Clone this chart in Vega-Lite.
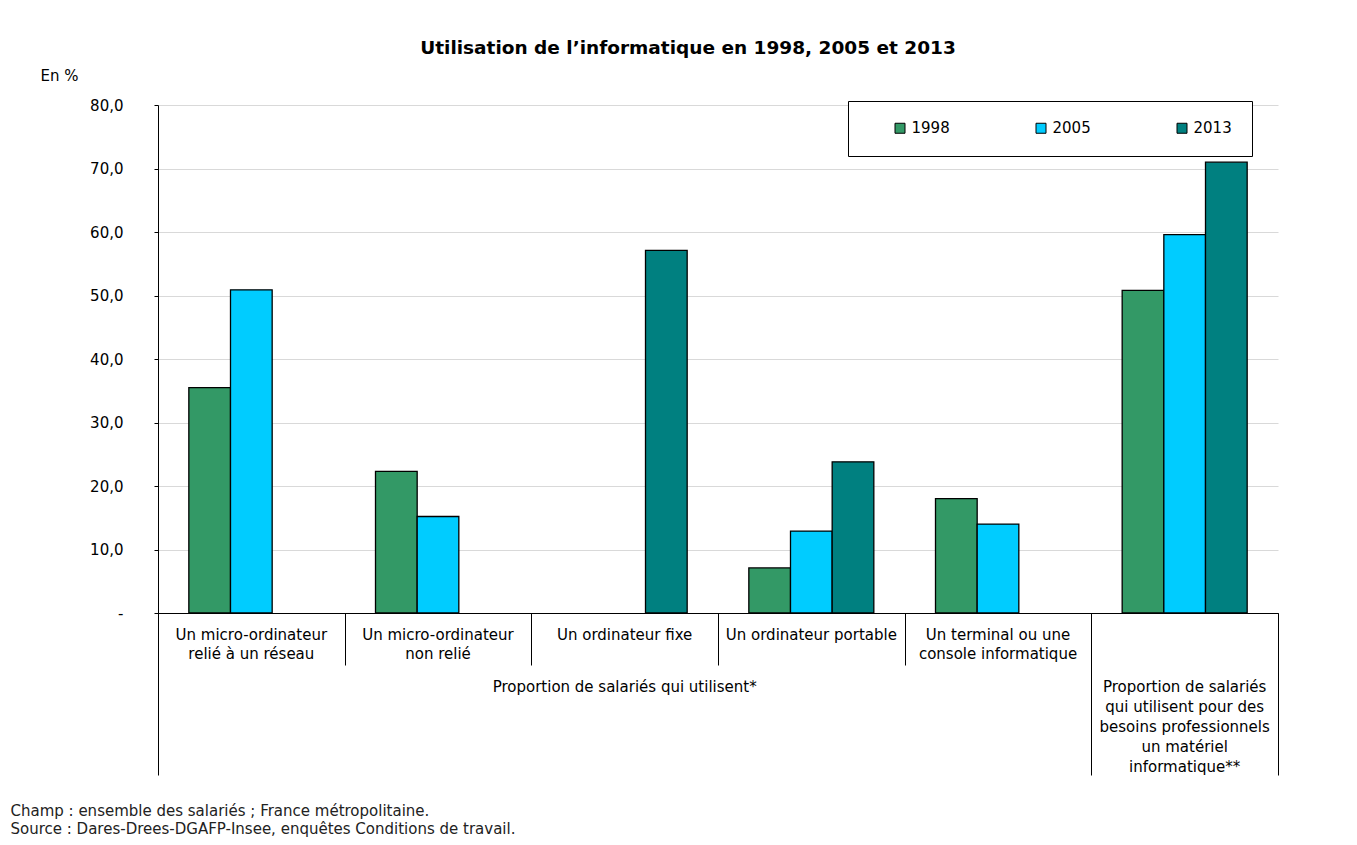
{
  "$schema": "https://vega.github.io/schema/vega-lite/v6.json",
  "width": 1120,
  "height": 508,
  "autosize": {"type": "none"},
  "padding": {"left": 158, "top": 105, "right": 79, "bottom": 232},
  "background": "white",
  "config": {
    "font": "DejaVu Sans",
    "view": {"stroke": null},
    "axis": {"labelColor": "black", "titleColor": "black", "labelFont": "DejaVu Sans", "titleFont": "DejaVu Sans"}
  },
  "title": {
    "text": "Utilisation de l’informatique en 1998, 2005 et 2013",
    "fontSize": 18.5,
    "fontWeight": "bold",
    "color": "black",
    "anchor": "middle",
    "frame": "group",
    "dx": -30,
    "offset": 11
  },
  "data": {
    "values": [
      {"categorie": "Un micro-ordinateur relié à un réseau", "annee": "1998", "valeur": 35.5},
      {"categorie": "Un micro-ordinateur relié à un réseau", "annee": "2005", "valeur": 50.9},
      {"categorie": "Un micro-ordinateur non relié", "annee": "1998", "valeur": 22.3},
      {"categorie": "Un micro-ordinateur non relié", "annee": "2005", "valeur": 15.2},
      {"categorie": "Un ordinateur fixe", "annee": "2013", "valeur": 57.1},
      {"categorie": "Un ordinateur portable", "annee": "1998", "valeur": 7.1},
      {"categorie": "Un ordinateur portable", "annee": "2005", "valeur": 12.9},
      {"categorie": "Un ordinateur portable", "annee": "2013", "valeur": 23.8},
      {"categorie": "Un terminal ou une console informatique", "annee": "1998", "valeur": 18.0},
      {"categorie": "Un terminal ou une console informatique", "annee": "2005", "valeur": 14.0},
      {"categorie": "Matériel informatique pour des besoins professionnels", "annee": "1998", "valeur": 50.8},
      {"categorie": "Matériel informatique pour des besoins professionnels", "annee": "2005", "valeur": 59.6},
      {"categorie": "Matériel informatique pour des besoins professionnels", "annee": "2013", "valeur": 71.0}
    ]
  },
  "resolve": {"scale": {"x": "shared"}, "axis": {"x": "independent"}},
  "layer": [
    {
      "mark": {"type": "bar", "stroke": "black", "strokeWidth": 1.3},
      "encoding": {
        "x": {
          "field": "categorie", "type": "nominal",
          "scale": {"domain": ["Un micro-ordinateur relié à un réseau", "Un micro-ordinateur non relié", "Un ordinateur fixe", "Un ordinateur portable", "Un terminal ou une console informatique", "Matériel informatique pour des besoins professionnels"], "paddingInner": 0, "paddingOuter": 0},
          "axis": {
            "orient": "bottom", "title": null, "ticks": false, "domain": true, "domainColor": "black", "domainWidth": 1,
            "grid": false, "labelAngle": 0, "labelFontSize": 15, "labelLineHeight": 19, "labelBaseline": "top", "labelPadding": 14, "labelLimit": 0,
            "labelExpr": "datum.label == 'Un micro-ordinateur relié à un réseau' ? ['Un micro-ordinateur', 'relié à un réseau'] : datum.label == 'Un micro-ordinateur non relié' ? ['Un micro-ordinateur', 'non relié'] : datum.label == 'Un terminal ou une console informatique' ? ['Un terminal ou une', 'console informatique'] : datum.label == 'Matériel informatique pour des besoins professionnels' ? '' : datum.label"
          }
        },
        "xOffset": {"field": "annee", "type": "nominal", "scale": {"domain": ["1998", "2005", "2013"], "paddingInner": 0, "paddingOuter": 0.74}},
        "y": {
          "field": "valeur", "type": "quantitative",
          "scale": {"domain": [0, 80], "nice": false},
          "axis": {
            "values": [0, 10, 20, 30, 40, 50, 60, 70, 80],
            "grid": true, "gridColor": "#d9d9d9", "gridWidth": 1,
            "tickSize": 4, "tickColor": "black", "domainColor": "black",
            "labelFontSize": 15, "labelPadding": 31,
            "labelExpr": "datum.value == 0 ? '-' : replace(format(datum.value, '.1f'), '.', ',')",
            "title": "En %", "titleAngle": 0, "titleAlign": "left", "titleBaseline": "alphabetic",
            "titleX": -118, "titleY": -25, "titleFontSize": 15, "titleFontWeight": "normal"
          }
        },
        "color": {
          "field": "annee", "type": "nominal",
          "scale": {"domain": ["1998", "2005", "2013"], "range": ["#339966", "#00CCFF", "#008080"]},
          "legend": {
            "orient": "none", "legendX": 690, "legendY": -4, "direction": "horizontal", "columns": 3, "title": null,
            "symbolType": "square", "symbolSize": 100, "symbolStrokeColor": "black", "symbolStrokeWidth": 1, "symbolOpacity": 1,
            "labelFontSize": 15, "labelColor": "black", "labelOffset": 4, "columnPadding": 58, "padding": 19.5, "symbolOffset": 25,
            "labelExpr": "datum.label == '2013' ? '2013\u00a0\u00a0\u00a0\u00a0' : datum.label",
            "strokeColor": "black", "fillColor": "white"
          }
        }
      }
    },
    {
      "mark": {"type": "text", "text": ""},
      "encoding": {
        "x": {
          "field": "categorie", "type": "nominal",
          "axis": {"orient": "bottom", "title": null, "labels": false, "domain": false, "grid": false, "ticks": true, "tickBand": "extent", "tickSize": 52, "tickColor": "black", "tickWidth": 1}
        }
      }
    },
    {
      "mark": {"type": "text", "text": ""},
      "encoding": {
        "x": {
          "field": "categorie", "type": "nominal",
          "axis": {"orient": "bottom", "title": null, "labels": false, "domain": false, "grid": false, "ticks": true, "bandPosition": 0, "values": ["Un micro-ordinateur relié à un réseau", "Matériel informatique pour des besoins professionnels"], "tickSize": 162, "tickColor": "black", "tickWidth": 1}
        }
      }
    },
    {
      "mark": {"type": "text", "text": ""},
      "encoding": {
        "x": {
          "field": "categorie", "type": "nominal",
          "axis": {"orient": "bottom", "title": null, "labels": false, "domain": false, "grid": false, "ticks": true, "bandPosition": 1, "values": ["Matériel informatique pour des besoins professionnels"], "tickSize": 162, "tickColor": "black", "tickWidth": 1}
        }
      }
    },
    {
      "mark": {"type": "text", "text": ""},
      "encoding": {
        "x": {
          "field": "categorie", "type": "nominal",
          "axis": {
            "orient": "bottom", "domain": false, "grid": false, "ticks": false,
            "values": ["Un ordinateur fixe", "Matériel informatique pour des besoins professionnels"],
            "labelAngle": 0, "labelFontSize": 15, "labelLineHeight": 20, "labelBaseline": "top", "labelPadding": 66, "labelLimit": 0,
            "labelExpr": "datum.label == 'Un ordinateur fixe' ? 'Proportion de salariés qui utilisent*' : ['Proportion de salariés', 'qui utilisent pour des', 'besoins professionnels', 'un matériel', 'informatique**']",
            "title": ["Champ : ensemble des salariés ; France métropolitaine.", "Source : Dares-Drees-DGAFP-Insee, enquêtes Conditions de travail."],
            "titleX": -148, "titleY": 190, "titleAlign": "left", "titleAnchor": "start", "titleAngle": 0, "titleBaseline": "top",
            "titleFontSize": 15, "titleFontWeight": "normal", "titleLineHeight": 18, "titleColor": "#222222"
          }
        }
      }
    }
  ]
}
